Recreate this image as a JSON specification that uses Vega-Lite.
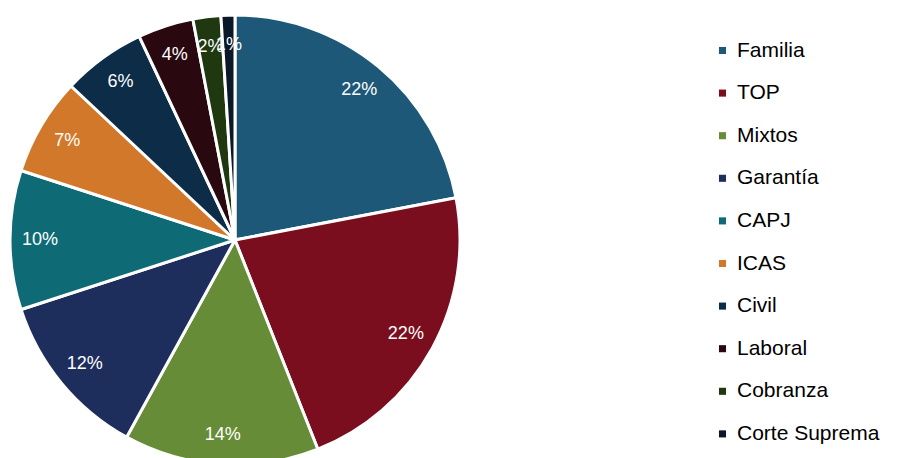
{
  "$schema": "https://vega.github.io/schema/vega-lite/v6.json",
  "width": 470,
  "height": 480,
  "padding": {"left": 0, "top": 0, "right": 427, "bottom": 0},
  "autosize": {"type": "none"},
  "background": "white",
  "config": {"view": {"stroke": null}, "font": "Liberation Sans"},
  "data": {
    "values": [
      {"categoria": "Familia", "pct": 0.22, "orden": 1},
      {"categoria": "TOP", "pct": 0.22, "orden": 2},
      {"categoria": "Mixtos", "pct": 0.14, "orden": 3},
      {"categoria": "Garantía", "pct": 0.12, "orden": 4},
      {"categoria": "CAPJ", "pct": 0.10, "orden": 5},
      {"categoria": "ICAS", "pct": 0.07, "orden": 6},
      {"categoria": "Civil", "pct": 0.06, "orden": 7},
      {"categoria": "Laboral", "pct": 0.04, "orden": 8},
      {"categoria": "Cobranza", "pct": 0.02, "orden": 9},
      {"categoria": "Corte Suprema", "pct": 0.01, "orden": 10}
    ]
  },
  "encoding": {
    "theta": {"field": "pct", "type": "quantitative", "stack": true},
    "order": {"field": "orden", "type": "quantitative"},
    "color": {
      "field": "categoria",
      "type": "nominal",
      "sort": null,
      "scale": {
        "domain": ["Familia", "TOP", "Mixtos", "Garantía", "CAPJ", "ICAS", "Civil", "Laboral", "Cobranza", "Corte Suprema"],
        "range": ["#1d5878", "#7a0e1e", "#668c37", "#1e2e5c", "#0e6b76", "#d2782a", "#0d2c47", "#2a0810", "#1f3810", "#0a1828"]
      },
      "legend": {
        "title": null,
        "orient": "none",
        "legendX": 712,
        "legendY": 40,
        "symbolType": "square",
        "symbolSize": 50,
        "symbolStrokeWidth": 0,
        "labelFontSize": 21,
        "labelFont": "Liberation Sans",
        "labelColor": "#000000",
        "labelOffset": 4,
        "rowPadding": 20.6,
        "labelLimit": 300
      }
    }
  },
  "layer": [
    {
      "mark": {"type": "arc", "outerRadius": 225, "stroke": "white", "strokeWidth": 3}
    },
    {
      "mark": {"type": "text", "radius": 195, "fontSize": 18, "fill": "white", "font": "Liberation Sans"},
      "encoding": {
        "text": {"field": "pct", "type": "quantitative", "format": ".0%"},
        "color": {"value": "white"}
      }
    }
  ]
}
